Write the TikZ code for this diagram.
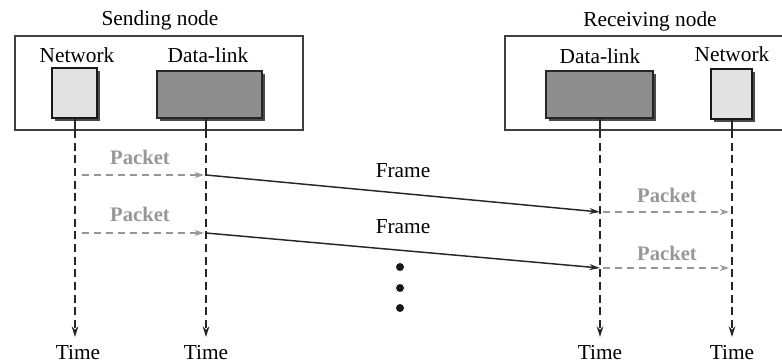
\documentclass[tikz,border=0pt]{standalone}
\usepackage{fontspec}
\setmainfont{Liberation Serif}
\usetikzlibrary{arrows.meta,fit,shadows}
\definecolor{lightbox}{HTML}{E2E2E2}
\definecolor{darkbox}{HTML}{8E8E8E}
\definecolor{shadowc}{HTML}{4A4A4A}
\definecolor{pktgray}{HTML}{979797}
\begin{document}
\begin{tikzpicture}[x=0.75pt,y=-0.75pt,
  lbl/.style={font=\fontsize{16}{18}\selectfont, text=black, inner sep=0pt, anchor=base},
  pkt/.style={font=\bfseries\fontsize{15.5}{18}\selectfont, text=pktgray, inner sep=0pt, anchor=base},
  outerbox/.style={draw=black!75, line width=1.1pt, inner sep=0pt},
  netbox/.style={draw=black!90, line width=2pt, fill=lightbox, inner sep=0pt,
    drop shadow={shadow xshift=2.5pt, shadow yshift=-2.5pt, opacity=1, fill=shadowc}},
  dlbox/.style={draw=black!85, line width=1.4pt, fill=darkbox, inner sep=0pt,
    drop shadow={shadow xshift=2.5pt, shadow yshift=-2.5pt, opacity=1, fill=shadowc}},
  life/.style={draw=black!85, line width=1pt, dash pattern=on 6pt off 3.5pt, -{Stealth[length=8pt,width=5pt]}},
  stub/.style={draw=black!85, line width=1pt},
  pktline/.style={draw=pktgray, line width=1pt, dash pattern=on 5.5pt off 3.5pt, -{Stealth[length=7pt,width=4.5pt]}},
  frameline/.style={draw=black!85, line width=1.1pt, -{Stealth[length=8pt,width=4.5pt]}},
  dot/.style={circle, fill=black!90, inner sep=0pt, minimum size=6pt}
]
\useasboundingbox (0,0) rectangle (782,363);

% outer boxes
\node[outerbox, fit={(15,36) (303,130)}] (sendbox) {};
\node[outerbox, fit={(505,36) (790,130)}] (recvbox) {};
\node[lbl] (sendlbl) at (160,26) {Sending node};
\node[lbl] (recvlbl) at (650,27) {Receiving node};

% inner boxes
\node[netbox, fit={(52,68) (97,118)}] (snet) {};
\node[dlbox, fit={(157,71) (262,118)}] (sdl) {};
\node[dlbox, fit={(546,71) (653,118)}] (rdl) {};
\node[netbox, fit={(711,69) (752,119)}] (rnet) {};
\node[lbl] (snetlbl) at (77,63) {Network};
\node[lbl] (sdllbl) at (208,63) {Data-link};
\node[lbl] (rdllbl) at (600,64) {Data-link};
\node[lbl] (rnetlbl) at (732,62) {Network};

% time labels
\node[lbl] (t1) at (78,359) {Time};
\node[lbl] (t2) at (206,359) {Time};
\node[lbl] (t3) at (600,359) {Time};
\node[lbl] (t4) at (732,359) {Time};

% lifeline coordinates
\coordinate (e1) at (75,337);
\coordinate (e2) at (206,337);
\coordinate (e3) at (600,337);
\coordinate (e4) at (732,337);
\coordinate (s1) at (75,130);
\coordinate (s2) at (206,130);
\coordinate (s3) at (600,130);
\coordinate (s4) at (732,130);

\draw[stub] (s1 |- snet.south) -- (s1);
\draw[stub] (s2 |- sdl.south) -- (s2);
\draw[stub] (s3 |- rdl.south) -- (s3);
\draw[stub] (s4 |- rnet.south) -- (s4);
\draw[life] (s1) -- (e1);
\draw[life] (s2) -- (e2);
\draw[life] (s3) -- (e3);
\draw[life] (s4) -- (e4);

% packets at sender
\coordinate (pa1) at (82,175);
\coordinate (pb1) at (204,175);
\coordinate (pa2) at (82,233);
\coordinate (pb2) at (204,233);
\draw[pktline] (pa1) -- (pb1);
\draw[pktline] (pa2) -- (pb2);
\node[pkt] (pl1) at (140,165) {Packet};
\node[pkt] (pl2) at (140,222) {Packet};

% frames
\coordinate (fa1) at (206,175);
\coordinate (fb1) at (600,212);
\coordinate (fa2) at (206,233);
\coordinate (fb2) at (600,268);
\draw[frameline] (fa1) -- (fb1);
\draw[frameline] (fa2) -- (fb2);
\node[lbl] (fl1) at (403,178) {Frame};
\node[lbl] (fl2) at (403,234) {Frame};

% packets at receiver
\coordinate (ra1) at (603,212);
\coordinate (rb1) at (729,212);
\coordinate (ra2) at (603,268);
\coordinate (rb2) at (729,268);
\draw[pktline] (ra1) -- (rb1);
\draw[pktline] (ra2) -- (rb2);
\node[pkt] (rl1) at (667,203) {Packet};
\node[pkt] (rl2) at (667,261) {Packet};

% dots
\node[dot] (d1) at (400,267) {};
\node[dot] (d2) at (400,288) {};
\node[dot] (d3) at (400,308) {};
\end{tikzpicture}
\end{document}
